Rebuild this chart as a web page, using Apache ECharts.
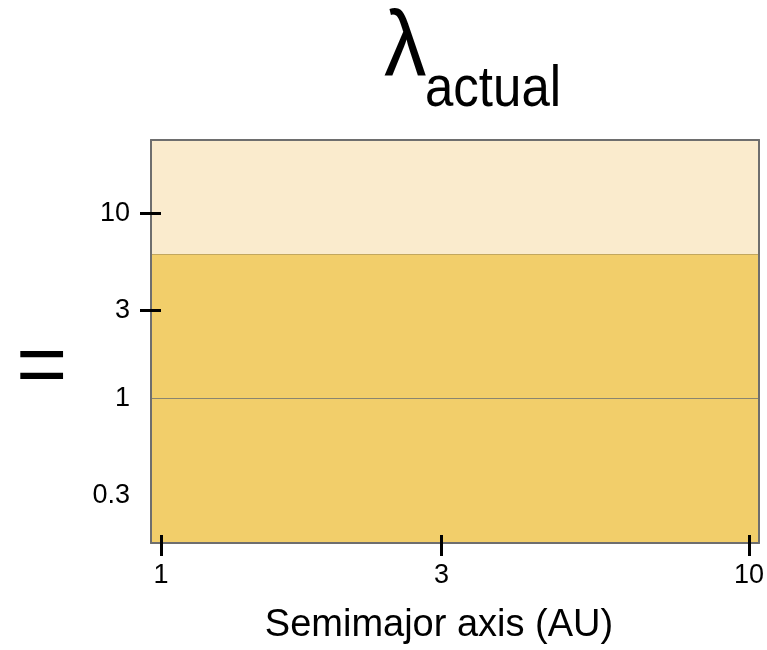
<!DOCTYPE html>
<html>
<head>
<meta charset="utf-8">
<script src="https://cdn.jsdelivr.net/npm/echarts@6/dist/echarts.min.js"></script>
<style>
html,body{margin:0;padding:0;background:#fff;}
#chart{width:767px;height:650px;}
</style>
</head>
<body>
<div id="chart"></div>
<script>
// ---- data ----
const xTickValues = [1, 3, 10];
const yLabelValues = [0.3, 1, 3, 10];
const yTickMarkValues = [3, 10];
const xRange = [0.962, 10.4];
const yRange = [0.166, 25];
const bandLower = [0.166, 6];
const bandUpper = [6, 25];
const bandColors = ['#F2CE6A', '#FAEBCD'];
const refLines = [1, 6];
const titleMain = 'λ';
const titleSub = 'actual';
const xName = 'Semimajor axis (AU)';
const yName = '=';

const FONT = 'Liberation Sans';
const fmt = v => String(+(+v).toPrecision(3));

const chart = echarts.init(document.getElementById('chart'), null, {renderer: 'canvas'});

const markAreaData = bandLower.map((lo, i) => [
  {yAxis: lo, itemStyle: {color: bandColors[i]}},
  {yAxis: bandUpper[i]}
]);

const baseX = {type: 'log', logBase: 10, min: xRange[0], max: xRange[1], gridIndex: 0, splitLine: {show: false}, z: 10};
const baseY = {type: 'log', logBase: 10, min: yRange[0], max: yRange[1], gridIndex: 0, splitLine: {show: false}, z: 10};
const lineStyle = {color: '#6e6e6e', width: 2};

const option = {
  animation: false,
  grid: {left: 151, right: 5, top: 140, bottom: 101, containLabel: false},
  graphic: [
    {type: 'text', left: 384, top: 2, scaleY: 1.1, style: {text: titleMain, font: '85px "' + FONT + '"', fill: '#000'}},
    {type: 'text', left: 425, top: 62, scaleY: 1.12, style: {text: titleSub, font: '51px "' + FONT + '"', fill: '#000'}},
    {type: 'text', left: 16, top: 326, style: {text: yName, font: '88px "' + FONT + '"', fill: '#000'}}
  ],
  xAxis: [
    Object.assign({}, baseX, {
      position: 'bottom',
      axisLine: {show: true, lineStyle: lineStyle},
      axisTick: {show: true, inside: false, length: 13, customValues: xTickValues, lineStyle: {color: '#000', width: 3}},
      axisLabel: {show: true, customValues: xTickValues, formatter: fmt, margin: 19, fontFamily: FONT, fontSize: 27, color: '#000'},
      name: xName, nameLocation: 'middle', nameGap: 64,
      nameTextStyle: {fontFamily: FONT, fontSize: 38, color: '#000', padding: [0, 32, 0, 0]}
    }),
    Object.assign({}, baseX, {
      position: 'bottom',
      axisLine: {show: false},
      axisTick: {show: true, inside: true, length: 8, customValues: xTickValues, lineStyle: {color: '#000', width: 3}},
      axisLabel: {show: false}
    }),
    Object.assign({}, baseX, {
      position: 'top',
      axisLine: {show: true, lineStyle: lineStyle},
      axisTick: {show: false},
      axisLabel: {show: false}
    })
  ],
  yAxis: [
    Object.assign({}, baseY, {
      position: 'left',
      axisLine: {show: true, lineStyle: lineStyle},
      axisTick: {show: true, inside: false, length: 11, customValues: yTickMarkValues, lineStyle: {color: '#000', width: 3}},
      axisLabel: {show: true, customValues: yLabelValues, formatter: fmt, margin: 21, fontFamily: FONT, fontSize: 27, color: '#000'}
    }),
    Object.assign({}, baseY, {
      position: 'left',
      axisLine: {show: false},
      axisTick: {show: true, inside: true, length: 10, customValues: yTickMarkValues, lineStyle: {color: '#000', width: 3}},
      axisLabel: {show: false}
    }),
    Object.assign({}, baseY, {
      position: 'right',
      axisLine: {show: true, lineStyle: lineStyle},
      axisTick: {show: false},
      axisLabel: {show: false}
    })
  ],
  series: [{
    type: 'line',
    xAxisIndex: 0,
    yAxisIndex: 0,
    data: [],
    silent: true,
    markArea: {silent: true, data: markAreaData},
    markLine: {
      silent: true,
      symbol: 'none',
      label: {show: false},
      data: [
        {yAxis: refLines[0], lineStyle: {color: '#8a8570', width: 1.2, type: 'solid'}},
        {yAxis: refLines[1], lineStyle: {color: '#c2a75e', width: 1.2, type: 'solid'}}
      ]
    }
  }]
};
chart.setOption(option);
</script>
</body>
</html>
